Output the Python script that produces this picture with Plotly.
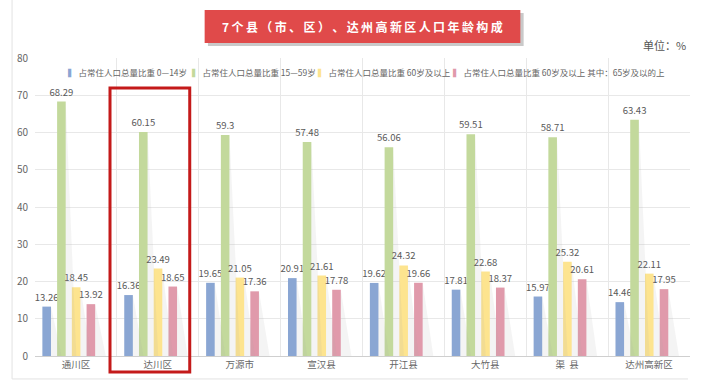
import plotly.graph_objects as go

categories = ["通川区", "达川区", "万源市", "宣汉县", "开江县", "大竹县", "渠  县", "达州高新区"]
series_names = [
    "占常住人口总量比重 0—14岁",
    "占常住人口总量比重 15—59岁",
    "占常住人口总量比重 60岁及以上",
    "占常住人口总量比重 60岁及以上 其中：65岁及以的上",
]
age_0_14 = [13.26, 16.36, 19.65, 20.91, 19.62, 17.81, 15.97, 14.46]
age_15_59 = [68.29, 60.15, 59.3, 57.48, 56.06, 59.51, 58.71, 63.43]
age_60_plus = [18.45, 23.49, 21.05, 21.61, 24.32, 22.68, 25.32, 22.11]
age_65_plus = [13.92, 18.65, 17.36, 17.78, 19.66, 18.37, 20.61, 17.95]
y_ticks = [0, 10, 20, 30, 40, 50, 60, 70, 80]

series_values = [age_0_14, age_15_59, age_60_plus, age_65_plus]
colors = ["#8aa6d3", "#c3d99c", "#fde48f", "#e09aab"]
offsets = [-0.41, -0.23, -0.05, 0.13]
bar_w = 0.105
FONT = "Noto Sans CJK SC"

fig = go.Figure()

# light diagonal shadows behind bars
sx, sy = [], []
for vals, off in zip(series_values, offsets):
    for i, v in enumerate(vals):
        xr = i + off + bar_w
        sx += [xr, xr + 0.13, xr, None]
        sy += [v, 0, 0, None]
fig.add_trace(go.Scatter(x=sx, y=sy, mode="lines", fill="toself",
                         fillcolor="rgba(170,170,170,0.13)", line=dict(width=0),
                         hoverinfo="skip", showlegend=False))

xs = list(range(len(categories)))
for name, vals, col, off in zip(series_names, series_values, colors, offsets):
    fig.add_trace(go.Bar(
        x=xs, y=vals, name=name, marker=dict(color=col, line=dict(width=0)),
        offset=off, width=bar_w, text=[f"{v:g}" for v in vals],
        textposition="outside", constraintext="none",
        textfont=dict(size=9.5, color="#595959", family=FONT),
        cliponaxis=False, showlegend=False))

fig.update_layout(
    width=721, height=389, barmode="overlay",
    margin=dict(l=35, r=31, t=58, b=33),
    paper_bgcolor="white", plot_bgcolor="white",
    font=dict(family=FONT, color="#555"),
    xaxis=dict(range=[-0.5, len(categories) - 0.5], tickvals=xs, ticktext=categories,
               showgrid=False, zeroline=False, showline=True, linecolor="#cfcfcf",
               ticks="", tickfont=dict(size=9.5, color="#666"),
               minor=dict(tick0=0.5, dtick=1, showgrid=True, gridcolor="#e8e8e8", gridwidth=1)),
    yaxis=dict(range=[0, 80], tickvals=y_ticks, showgrid=True, gridcolor="#e8e8e8",
               zeroline=False, showline=False, ticks="", ticklabelstandoff=6,
               tickfont=dict(size=10, color="#666")),
)

# legend as text entries
leg_x = [0.047, 0.237, 0.429, 0.635]
for name, col, lx in zip(series_names, colors, leg_x):
    fig.add_annotation(xref="paper", yref="paper", x=lx, y=0.953, xanchor="left", yanchor="middle",
                       text=f'<span style="color:{col}">▍</span> {name}', showarrow=False,
                       font=dict(size=8.5, color="#666", family=FONT))

# title box
fig.add_shape(type="rect", xref="paper", yref="paper", x0=0.264, x1=0.746, y0=1.040, y1=1.151,
              fillcolor="#c9c9c9", line=dict(width=0), layer="above")
fig.add_shape(type="rect", xref="paper", yref="paper", x0=0.259, x1=0.741, y0=1.050, y1=1.161,
              fillcolor="#e04a4a", line=dict(width=0), layer="above")
title = "7个县（市、区）、达州高新区人口年龄构成"
fig.add_annotation(xref="paper", yref="paper", x=0.5, y=1.105, xanchor="center", yanchor="middle",
                   text="<b>" + "\u2009".join(title) + "</b>", showarrow=False,
                   font=dict(size=12, color="white", family=FONT))

fig.add_annotation(xref="paper", yref="paper", x=0.997, y=1.044, xanchor="right", yanchor="middle",
                   text="单位：%", showarrow=False, font=dict(size=11, color="#555", family=FONT))

# highlight around 达川区
fig.add_shape(type="rect", xref="x", yref="paper", x0=0.416, x1=1.39, y0=-0.054, y1=0.899,
              line=dict(color="#c41a1a", width=3), fillcolor="rgba(0,0,0,0)", layer="above")

# card frame
fig.add_shape(type="line", xref="paper", yref="paper", x0=-0.035, x1=-0.035, y0=-0.077, y1=1.2,
              line=dict(color="#e2e2e2", width=1))
fig.add_shape(type="line", xref="paper", yref="paper", x0=-0.035, x1=0.997, y0=-0.077, y1=-0.077,
              line=dict(color="#e2e2e2", width=1))

fig.write_html("out.html")
